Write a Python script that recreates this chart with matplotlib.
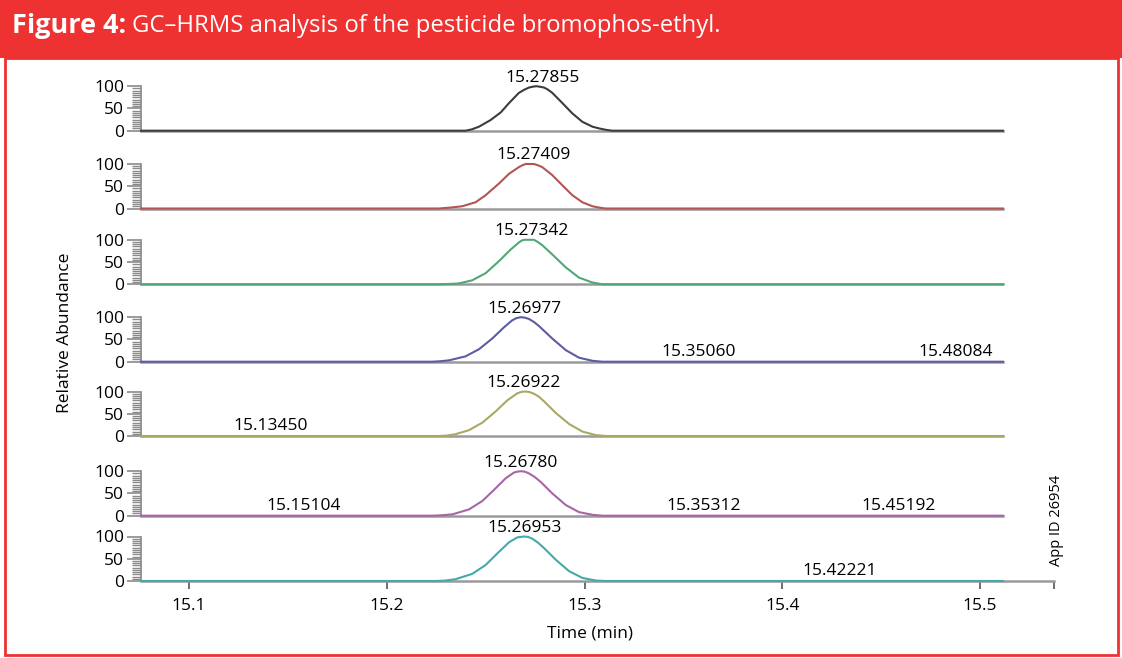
"""GC-HRMS stacked chromatograms for bromophos-ethyl."""

import matplotlib
matplotlib.use("Agg")
import matplotlib.pyplot as plt
from matplotlib.patches import Rectangle
from matplotlib.ticker import MultipleLocator

# --- data (time in min, relative abundance in %) ---
t1 = [15.0757, 15.2398, 15.2430, 15.2466, 15.2525, 15.2576, 15.2618, 15.2668, 15.2695,
      15.2719, 15.2740, 15.2756, 15.2772, 15.2795, 15.2816, 15.2837, 15.2888, 15.2938,
      15.2989, 15.3040, 15.3075, 15.3107, 15.3141, 15.5116]
a1 = [0, 0, 3, 9, 24, 41, 62, 85, 92, 97, 99, 100, 99, 97, 92, 85, 62, 39, 20, 9, 5, 2, 0, 0]

t2 = [15.0757, 15.2263, 15.2320, 15.2381, 15.2449, 15.2500, 15.2567, 15.2618, 15.2668,
      15.2685, 15.2702, 15.2723, 15.2744, 15.2765, 15.2786, 15.2837, 15.2888, 15.2938,
      15.2989, 15.3040, 15.3075, 15.3107, 15.5116]
a2 = [0, 0, 2, 5, 14, 30, 56, 78, 93, 97, 100, 100, 100, 97, 93, 75, 52, 30, 14, 5, 2, 0, 0]

t3 = [15.0757, 15.2263, 15.2330, 15.2365, 15.2432, 15.2500, 15.2567, 15.2626, 15.2668,
      15.2681, 15.2694, 15.2719, 15.2744, 15.2760, 15.2786, 15.2837, 15.2905, 15.2972,
      15.3040, 15.3091, 15.5116]
a3 = [0, 0, 1, 2, 9, 25, 52, 78, 94, 98, 100, 100, 100, 96, 88, 67, 38, 15, 4, 0, 0]

t4 = [15.0757, 15.2229, 15.2270, 15.2314, 15.2398, 15.2466, 15.2533, 15.2592, 15.2634,
      15.2656, 15.2677, 15.2698, 15.2719, 15.2745, 15.2770, 15.2837, 15.2905, 15.2972,
      15.3040, 15.3065, 15.3091, 15.5116]
a4 = [0, 0, 1, 3, 12, 28, 52, 77, 93, 98, 100, 99, 96, 89, 80, 52, 26, 9, 2, 1, 0, 0]

t5 = [15.0757, 15.2263, 15.2305, 15.2347, 15.2415, 15.2483, 15.2550, 15.2609, 15.2660,
      15.2680, 15.2699, 15.2720, 15.2744, 15.2770, 15.2795, 15.2854, 15.2922, 15.2989,
      15.3057, 15.3082, 15.3107, 15.5116]
a5 = [0, 0, 1, 4, 13, 30, 55, 80, 96, 99, 100, 99, 95, 88, 78, 52, 27, 10, 2, 1, 0, 0]

t6 = [15.0757, 15.2229, 15.2280, 15.2331, 15.2415, 15.2483, 15.2542, 15.2601, 15.2643,
      15.2660, 15.2677, 15.2698, 15.2719, 15.2748, 15.2778, 15.2837, 15.2905, 15.2972,
      15.3040, 15.3065, 15.3091, 15.5116]
a6 = [0, 0, 1, 3, 14, 33, 58, 84, 97, 99, 100, 99, 95, 87, 76, 50, 24, 8, 2, 1, 0, 0]

t7 = [15.0757, 15.2247, 15.2297, 15.2347, 15.2432, 15.2500, 15.2559, 15.2618, 15.2660,
      15.2677, 15.2694, 15.2715, 15.2736, 15.2765, 15.2795, 15.2854, 15.2922, 15.2989,
      15.3057, 15.3082, 15.3107, 15.5116]
a7 = [0, 0, 1, 4, 16, 36, 62, 87, 98, 99, 100, 99, 95, 86, 74, 48, 22, 7, 1, 0.5, 0, 0]

traces = [(t1, a1), (t2, a2), (t3, a3), (t4, a4), (t5, a5), (t6, a6), (t7, a7)]
colors = ["#3c3c3c", "#b35555", "#4fa876", "#5c5ca0", "#a9a965", "#a765a8", "#44aaa8"]

# main peak apex labels
apex_labels = ["15.27855", "15.27409", "15.27342", "15.26977", "15.26922", "15.26780", "15.26953"]
# labelled minor peaks per panel
minor_labels = [[], [], [], ["15.35060", "15.48084"], ["15.13450"],
                ["15.15104", "15.35312", "15.45192"], ["15.42221"]]

x_ticks = [15.1, 15.2, 15.3, 15.4, 15.5]
y_ticks = [0, 50, 100]

# --- layout (pixels in a 1122 x 658 canvas) ---
W, H = 1122, 658
ax_left, ax_right = 141, 1054
x_min, x_max = 15.0757, 15.5374
trace_end = 15.5116
panel_base = [130.7, 208.5, 284.3, 361.7, 436.0, 515.7, 581.0]
panel_height = 44.5

FONT = ["Open Sans", "DejaVu Sans"]
plt.rcParams["font.family"] = FONT
GREY = "#8a8a8a"

fig = plt.figure(figsize=(W / 100, H / 100), dpi=100)

# red header band and frame
fig.patches.append(Rectangle((0, 1 - 58 / H), 1, 58 / H, transform=fig.transFigure,
                             facecolor="#ee3131", edgecolor="none", zorder=0))
fig.patches.append(Rectangle((5 / W, 3 / H), 1113 / W, (H - 58 - 3) / H,
                             transform=fig.transFigure, facecolor="none",
                             edgecolor="#ee3131", linewidth=2, zorder=0))

for i, ((t, a), col) in enumerate(zip(traces, colors)):
    bottom = 1 - panel_base[i] / H
    ax = fig.add_axes([ax_left / W, bottom, (ax_right - ax_left) / W, panel_height / H])
    ax.set_xlim(x_min, x_max)
    ax.set_ylim(0, 100)
    ax.patch.set_visible(False)
    for side in ("top", "right"):
        ax.spines[side].set_visible(False)
    ax.spines["left"].set_color(GREY)
    ax.spines["left"].set_linewidth(1.2)
    ax.spines["left"].set_bounds(0, 100)
    ax.spines["bottom"].set_color("#9a9a9a")
    ax.spines["bottom"].set_linewidth(1.8)

    ax.plot(t, a, color=col, linewidth=1.5, clip_on=False, zorder=3,
            solid_joinstyle="round")

    ax.set_yticks(y_ticks)
    ax.set_yticklabels([str(v) for v in y_ticks], fontsize=12.5)
    ax.yaxis.set_minor_locator(MultipleLocator(5))
    ax.tick_params(axis="y", which="major", length=10, width=1.2, color=GREY, pad=2)
    ax.tick_params(axis="y", which="minor", length=6.5, width=1.0, color=GREY)

    if i < len(traces) - 1:
        ax.spines["bottom"].set_bounds(x_min, trace_end)
        ax.set_xticks([])
    else:
        ax.set_xticks(x_ticks + [x_max])
        ax.set_xticklabels([f"{v:g}" for v in x_ticks] + [""], fontsize=12.5)
        ax.tick_params(axis="x", length=6, width=1.2, color="#555555", pad=6)

    # retention-time labels: main peak above apex, minor peaks on the baseline
    ax.annotate(apex_labels[i], (float(apex_labels[i]), 100), xytext=(0, 0.5),
                textcoords="offset points", ha="center", va="bottom", fontsize=12.5,
                annotation_clip=False)
    for lab in minor_labels[i]:
        ax.annotate(lab, (float(lab), 0), xytext=(10, 1.5), textcoords="offset points",
                    ha="center", va="bottom", fontsize=12.5, annotation_clip=False)

fig.text(65 / W, 1 - 333 / H, "Relative Abundance", rotation=90, ha="center",
         va="center", fontsize=12.5)
fig.text(590 / W, 1 - 633 / H, "Time (min)", ha="center", va="center", fontsize=12.5)
fig.text(1057 / W, 1 - 520 / H, "App ID 26954", rotation=90, ha="center",
         va="center", fontsize=10.5)

# header title: bold lead-in followed by regular text
lead = fig.text(12 / W, 1 - 26 / H, "Figure 4:", color="white", fontsize=19.5,
                fontweight="bold", va="center")
renderer = fig.canvas.get_renderer()
bb = lead.get_window_extent(renderer=renderer)
fig.text(bb.x1 / W + 6 / W, 1 - 26 / H, "GC\u2013HRMS analysis of the pesticide bromophos-ethyl.",
         color="white", fontsize=17.2, va="center")

fig.savefig("out.png", dpi=100)
plt.close(fig)
